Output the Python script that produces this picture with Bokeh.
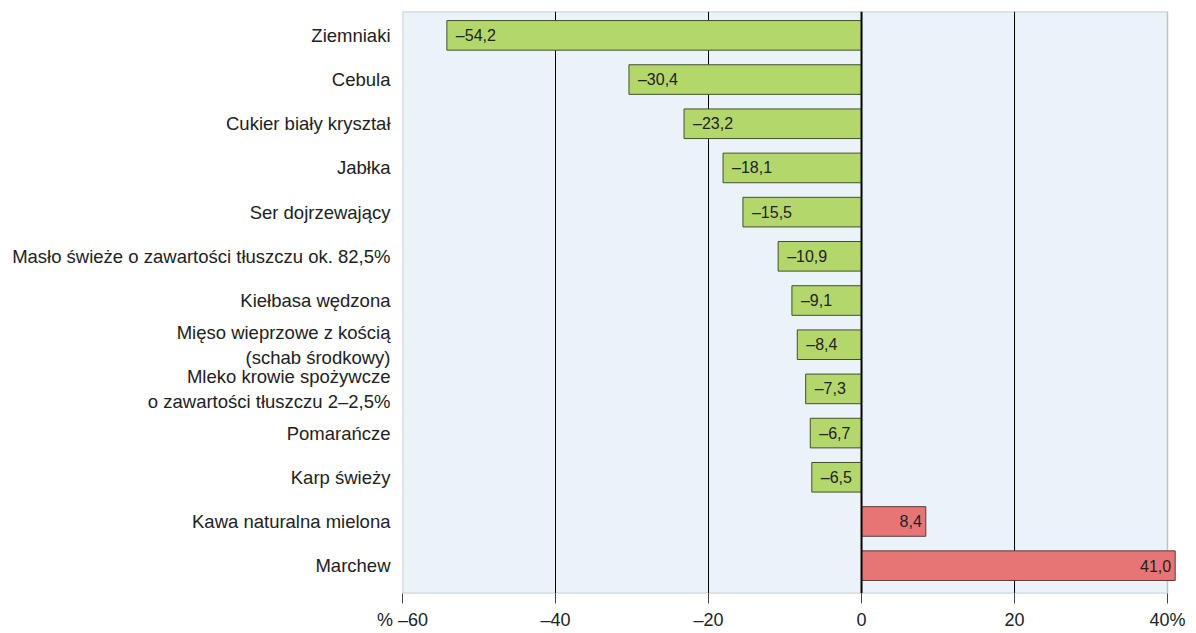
from bokeh.plotting import figure
from bokeh.models import ColumnDataSource, FixedTicker, Span, LabelSet, BoxAnnotation
from bokeh.core.properties import value
from bokeh.embed import file_html
from bokeh.resources import INLINE

categories = [
    "Ziemniaki",
    "Cebula",
    "Cukier biały kryształ",
    "Jabłka",
    "Ser dojrzewający",
    "Masło świeże o zawartości tłuszczu ok. 82,5%",
    "Kiełbasa wędzona",
    "Mięso wieprzowe z kością\n(schab środkowy)",
    "Mleko krowie spożywcze\no zawartości tłuszczu 2–2,5%",
    "Pomarańcze",
    "Karp świeży",
    "Kawa naturalna mielona",
    "Marchew",
]
values = [-54.2, -30.4, -23.2, -18.1, -15.5, -10.9, -9.1, -8.4, -7.3, -6.7, -6.5, 8.4, 41.0]
x_ticks = [-60, -40, -20, 0, 20, 40]
x_tick_labels = ["% –60", "–40", "–20", "0", "20", "40%"]
grid_lines = [-40, -20, 20]

FONT = "Liberation Sans"
GREEN = "#b4d76c"
RED = "#e87575"
BG = "#eaf3f8"

pos = list(range(len(categories)))
labels = [f"{abs(v):.1f}".replace(".", ",") for v in values]
labels = [("–" + s if v < 0 else s) for s, v in zip(labels, values)]

neg = [i for i, v in enumerate(values) if v < 0]
posi = [i for i, v in enumerate(values) if v >= 0]

src_neg = ColumnDataSource(dict(y=[pos[i] for i in neg], v=[values[i] for i in neg],
                                lab=[labels[i] for i in neg]))
src_pos = ColumnDataSource(dict(y=[pos[i] for i in posi], v=[values[i] for i in posi],
                                lab=[labels[i] for i in posi]))

p = figure(width=1194, height=632, output_backend="svg", toolbar_location=None,
           x_range=(-60, 41.3), y_range=(12.63, -0.54),
           min_border_left=402, min_border_right=17, min_border_top=11, min_border_bottom=35)
p.background_fill_color = "white"
p.border_fill_color = "white"
p.outline_line_color = None

p.xgrid.grid_line_color = None
p.ygrid.grid_line_color = None

box = BoxAnnotation(left=-60, right=40, fill_color=BG, fill_alpha=1.0,
                    line_color="#444444", line_width=1.5, level="underlay")
p.add_layout(box)
for g in grid_lines:
    p.add_layout(Span(location=g, dimension="height", line_color="black",
                      line_width=1, level="underlay"))

p.hbar(y="y", left=0, right="v", height=0.67, source=src_neg,
       fill_color=GREEN, line_color="#464e30", line_width=1)
p.hbar(y="y", left="v", right=0, height=0.67, source=src_pos,
       fill_color=RED, line_color="#5a3a3a", line_width=1)

p.add_layout(Span(location=0, dimension="height", line_color="black", line_width=2))

p.add_layout(LabelSet(x="v", y="y", text="lab", source=src_neg, x_offset=9,
                      text_align="left", text_baseline="middle",
                      text_font=value(FONT), text_font_size="16px", text_color="#222222"))
p.add_layout(LabelSet(x="v", y="y", text="lab", source=src_pos, x_offset=-4,
                      text_align="right", text_baseline="middle",
                      text_font=value(FONT), text_font_size="16px", text_color="#222222"))

p.xaxis.ticker = FixedTicker(ticks=x_ticks)
p.xaxis.major_label_overrides = dict(zip(x_ticks, x_tick_labels))
p.xaxis.major_tick_out = 10
p.xaxis.major_tick_in = 0
p.xaxis.minor_tick_out = 0
p.xaxis.minor_tick_in = 0
p.xaxis.axis_line_color = None
p.xaxis.major_tick_line_color = "#444444"
p.xaxis.major_label_text_font = FONT
p.xaxis.major_label_text_font_size = "18px"
p.xaxis.major_label_text_color = "#222222"
p.xaxis.major_label_standoff = 6

p.yaxis.ticker = FixedTicker(ticks=pos)
p.yaxis.major_label_overrides = dict(zip(pos, categories))
p.yaxis.major_tick_out = 0
p.yaxis.major_tick_in = 0
p.yaxis.minor_tick_out = 0
p.yaxis.minor_tick_in = 0
p.yaxis.axis_line_color = None
p.yaxis.major_label_text_font = FONT
p.yaxis.major_label_text_font_size = "18.5px"
p.yaxis.major_label_text_color = "#222222"
p.yaxis.major_label_standoff = 12

open("out.html", "w").write(file_html(p, INLINE))
